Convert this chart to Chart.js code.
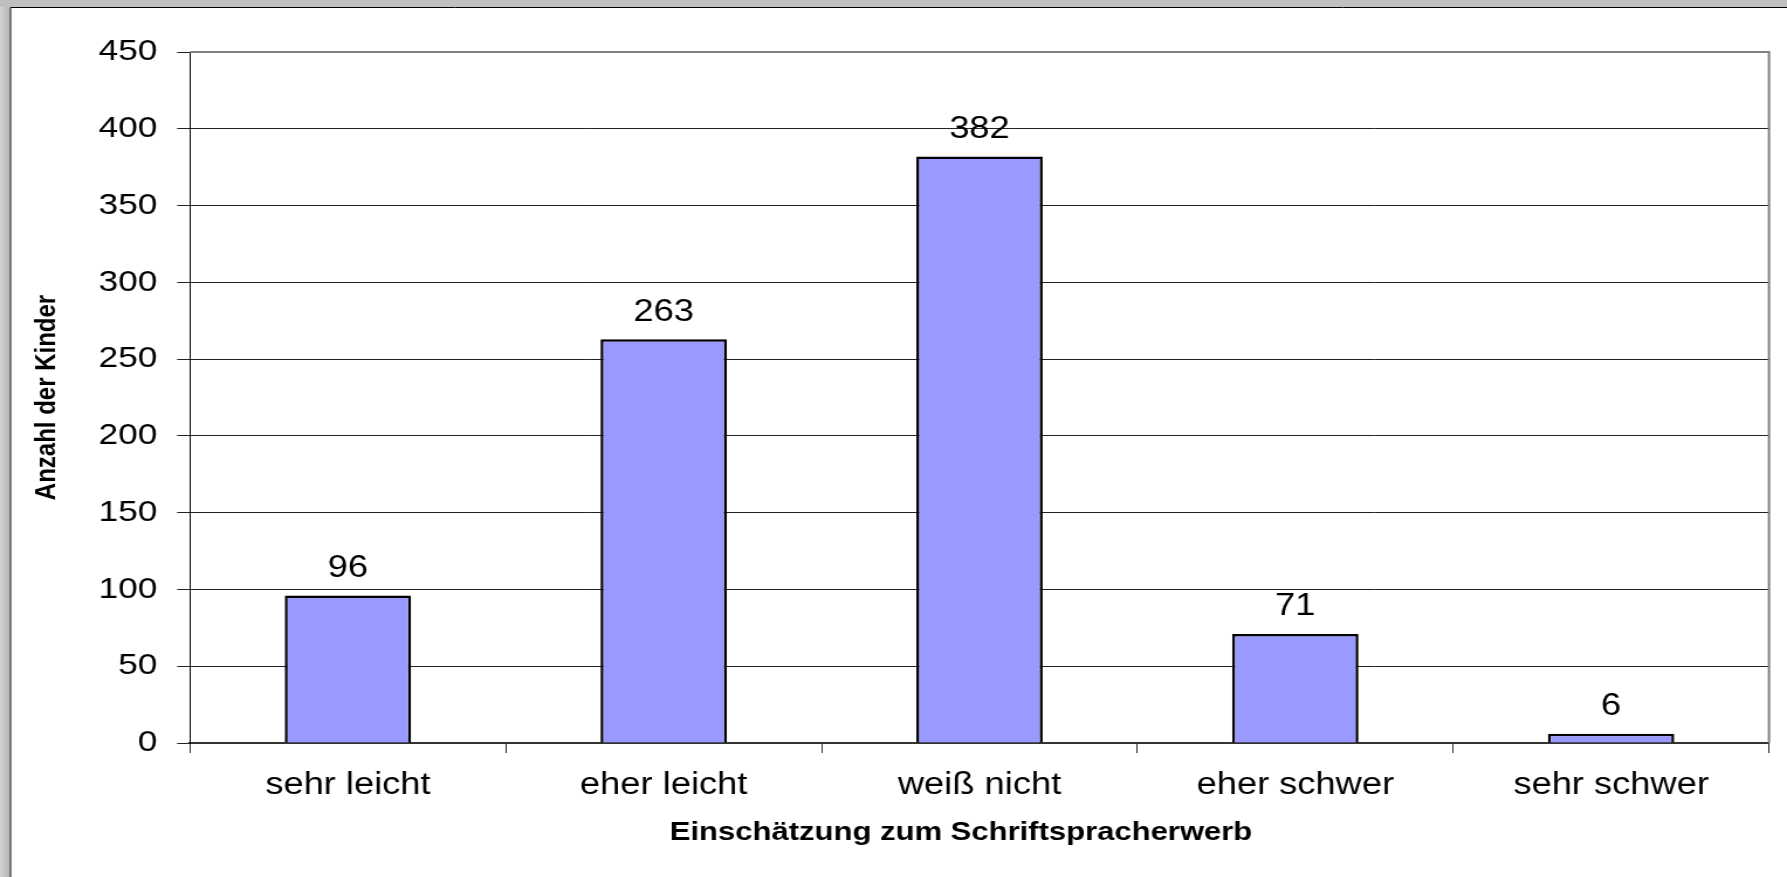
<!DOCTYPE html>
<html lang="de">
<head>
<meta charset="utf-8">
<title>Einschätzung zum Schriftspracherwerb</title>
<script src="https://cdn.jsdelivr.net/npm/chart.js@4.4.1/dist/chart.umd.min.js"></script>
<style>
  html, body { margin: 0; padding: 0; background: #c0c0c0; overflow: hidden; }
  #chart { position: absolute; left: 0; top: 0; width: 1787px; height: 877px; }
</style>
</head>
<body>
<canvas id="chart" style="width:1787px;height:877px"></canvas>
<script>
// ── Data ─────────────────────────────────────────────────────
const categories = ["sehr leicht", "eher leicht", "weiß nicht", "eher schwer", "sehr schwer"];
const kinder = [96, 263, 382, 71, 6];
const yMin = 0;
const yMax = 450;
const yStep = 50;
const xTitle = "Einschätzung zum Schriftspracherwerb";
const yTitle = "Anzahl der Kinder";

// ── Sizing ───────────────────────────────────────────────────
// The canvas is drawn narrower and stretched by CSS, which gives the
// wide Excel-style lettering. sx() turns page x into canvas x.
const PAGE_W = 1787;
const PAGE_H = 877;
const STRETCH = 1.17;
const W = Math.round(PAGE_W / STRETCH);
const sx = v => v * W / PAGE_W;

const FONT = "'Liberation Sans', Arial, sans-serif";
Chart.defaults.font.family = FONT;
Chart.defaults.color = "#000";

// ── Plugins ──────────────────────────────────────────────────
// grey window frame with the white chart sheet inside
const backdrop = {
    id: "backdrop",
    beforeDraw(chart) {
        const { ctx, width, height } = chart;
        ctx.save();
        ctx.fillStyle = "#c0c0c0";
        ctx.fillRect(0, 0, width, height);
        const g = ctx.createLinearGradient(0, 0, sx(10), 0);
        g.addColorStop(0, "#d4d4d4");
        g.addColorStop(1, "#b4b4b4");
        ctx.fillStyle = g;
        ctx.fillRect(0, 7, sx(10), height);
        ctx.fillStyle = "#fff";
        ctx.fillRect(sx(10), 7, width, height);
        ctx.strokeStyle = "#000";
        ctx.lineWidth = 1;
        ctx.beginPath();
        ctx.moveTo(sx(10.5), height);
        ctx.lineTo(sx(10.5), 7.5);
        ctx.lineTo(width, 7.5);
        ctx.stroke();
        ctx.restore();
    }
};

// grey top/right edge of the plot area
const plotFrame = {
    id: "plotFrame",
    beforeDatasetsDraw(chart) {
        const { ctx, chartArea: a } = chart;
        ctx.save();
        ctx.strokeStyle = "#808080";
        ctx.lineWidth = 2;
        ctx.beginPath();
        ctx.moveTo(a.left, a.top);
        ctx.lineTo(a.right, a.top);
        ctx.lineTo(a.right, a.bottom);
        ctx.stroke();
        ctx.restore();
    }
};

// value above each bar, plus the category axis title (sits a bit left of centre)
const valueLabels = {
    id: "valueLabels",
    afterDatasetsDraw(chart) {
        const { ctx } = chart;
        const meta = chart.getDatasetMeta(0);
        ctx.save();
        ctx.font = `31px ${FONT}`;
        ctx.fillStyle = "#000";
        ctx.textAlign = "center";
        ctx.textBaseline = "alphabetic";
        meta.data.forEach((bar, i) => {
            ctx.fillText(String(kinder[i]), bar.x, bar.y - 18.5);
        });
        ctx.font = `bold 26.5px ${FONT}`;
        ctx.textBaseline = "middle";
        ctx.fillText(xTitle, sx(961), 833);
        ctx.restore();
    }
};

// ── Chart ────────────────────────────────────────────────────
const canvas = document.getElementById("chart");
canvas.width = W;
canvas.height = PAGE_H;

new Chart(canvas, {
    type: "bar",
    data: {
        labels: categories,
        datasets: [{
            data: kinder,
            backgroundColor: "#9999ff",
            borderColor: "#000",
            borderWidth: 2.5,
            categoryPercentage: 0.4,
            barPercentage: 1
        }]
    },
    options: {
        responsive: false,
        animation: false,
        events: [],
        layout: { padding: { top: 52, right: W - sx(1769), left: 0, bottom: 0 } },
        plugins: {
            legend: { display: false },
            tooltip: { enabled: false }
        },
        scales: {
            x: {
                grid: { drawOnChartArea: false, tickLength: 10, color: "#333", lineWidth: 1 },
                border: { color: "#333", width: 2 },
                ticks: { color: "#000", font: { size: 31 }, padding: 14 },
                afterFit: s => { s.height = PAGE_H - 743; }
            },
            y: {
                min: yMin,
                max: yMax,
                ticks: { stepSize: yStep, color: "#000", font: { size: 30 }, padding: 17 },
                grid: { color: "#222", lineWidth: 1, tickLength: 11 },
                border: { color: "#000", width: 1 },
                title: {
                    display: true,
                    text: yTitle,
                    color: "#000",
                    font: { size: 24, weight: "bold" },
                    padding: { top: 26, bottom: 0 }
                },
                afterFit: s => { s.width = sx(190); }
            }
        }
    },
    plugins: [backdrop, plotFrame, valueLabels]
});
</script>
</body>
</html>
